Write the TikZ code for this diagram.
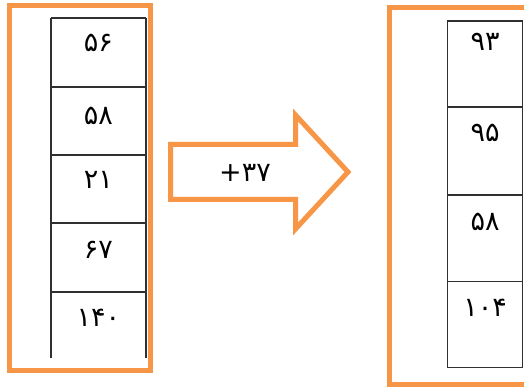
\documentclass[tikz,border=0pt]{standalone}
\usepackage{fontspec}
\newfontfamily\fa[Script=Arabic]{DejaVu Sans}
\definecolor{frameorange}{HTML}{F79646}
\definecolor{gridline}{HTML}{303030}
\tikzset{
  frame/.style={draw=frameorange, line width=5pt, line join=miter},
  grid/.style={draw=gridline, line width=1.3pt},
  num/.style={font=\fa\fontsize{27}{28}\selectfont, inner sep=0pt, anchor=center}
}
\begin{document}
\begin{tikzpicture}[x=1pt,y=-1pt]
\useasboundingbox[fill=white] (0,0) rectangle (524,387);
% left frame
\draw[frame] (9.5,5.5) rectangle (150.5,370);
% left table
\draw[grid] (51,18) -- (51,358);
\draw[grid] (146,18) -- (146,358);
\foreach \y in {18,87,155,223,292} \draw[grid] (51,\y) -- (146,\y);
\node[num] (l1) at (98.5,43) {۵۶};
\node[num] (l2) at (98.5,116) {۵۸};
\node[num] (l3) at (98.5,180) {۲۱};
\node[num] (l4) at (98.5,250) {۶۷};
\node[num] (l5) at (98.5,318) {۱۴۰};
% right frame
\draw[frame] (389.5,7.5) rectangle (540,384.5);
% right table
\draw[grid] (447.5,21) rectangle (522.5,367.5);
\foreach \y in {107,195,281.5} \draw[grid] (447.5,\y) -- (522.5,\y);
\node[num] (r1) at (485,42) {۹۳};
\node[num] (r2) at (485,133) {۹۵};
\node[num] (r3) at (485,222) {۵۸};
\node[num] (r4) at (485,308) {۱۰۴};
% arrow
\draw[frame] (170.5,144.5) -- (295.5,144.5) -- (295.5,115) -- (348,172) -- (295.5,229) -- (295.5,199.5) -- (170.5,199.5) -- cycle;
\node[num] (op) at (245,173) {\mbox{+}\mbox{۳۷}};
\end{tikzpicture}
\end{document}
